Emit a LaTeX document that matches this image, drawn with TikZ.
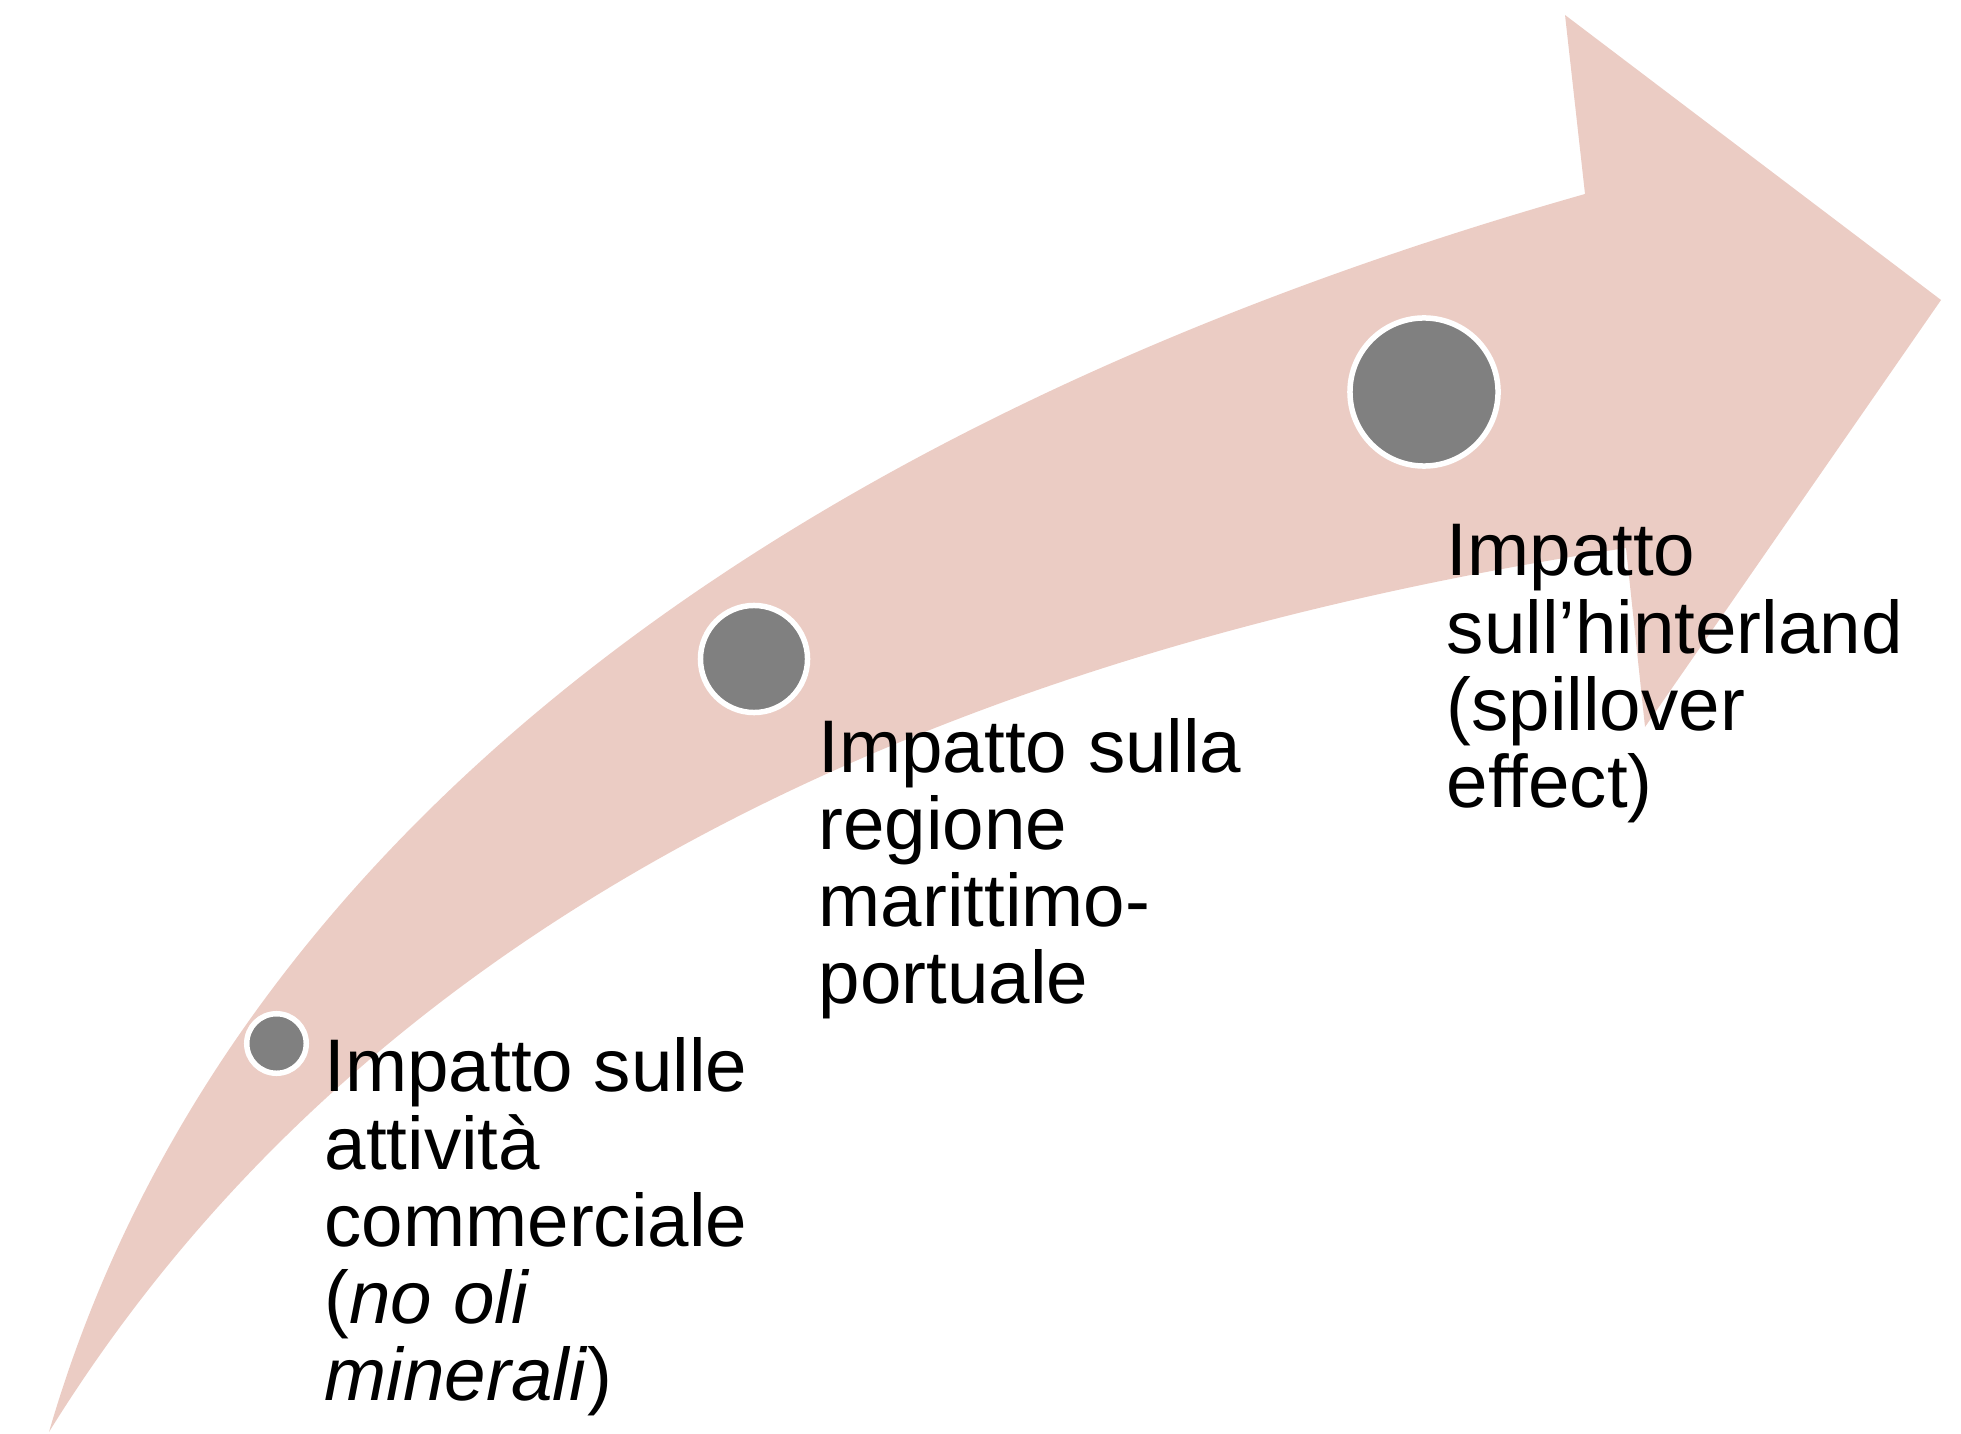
\documentclass[tikz,border=0pt]{standalone}
\usepackage{fontspec}
\setmainfont{Liberation Sans}
\definecolor{bandpink}{RGB}{235,204,196}
\definecolor{dotgray}{RGB}{128,128,128}
\begin{document}
\begin{tikzpicture}[x=0.01cm,y=-0.01cm,
  stepdot/.style={circle,fill=dotgray,draw=white,line width=0.055cm,inner sep=0pt},
  steptext/.style={anchor=base west,inner sep=0pt,font=\fontsize{21.2}{21.9}\selectfont,text=black}]
\useasboundingbox (0,0) rectangle (1961,1434);
% curved arrow band
\fill[bandpink] (49,1432) .. controls (215,860) and (753.7,430) .. (1585,194)
  -- (1565,15) -- (1941,300) -- (1645,727) -- (1626,548)
  .. controls (867.3,664.7) and (341.7,959.3) .. (49,1432) -- cycle;
% dots
\node[stepdot,minimum size=0.595cm] (d1) at (276.5,1043.5) {};
\node[stepdot,minimum size=1.07cm] (d2) at (754,659) {};
\node[stepdot,minimum size=1.48cm] (d3) at (1424,392) {};
% labels
\node[steptext] (t1) at (324,1091) {\begin{tabular}[t]{@{}l@{}}Impatto sulle\\attività\\commerciale\\(\textit{no oli}\\\textit{minerali})\end{tabular}};
\node[steptext] (t2) at (818,772) {\begin{tabular}[t]{@{}l@{}}Impatto sulla\\regione\\marittimo-\\portuale\end{tabular}};
\node[steptext] (t3) at (1446,576) {\begin{tabular}[t]{@{}l@{}}Impatto\\sull’hinterland\\(spillover\\effect)\end{tabular}};
\end{tikzpicture}
\end{document}
